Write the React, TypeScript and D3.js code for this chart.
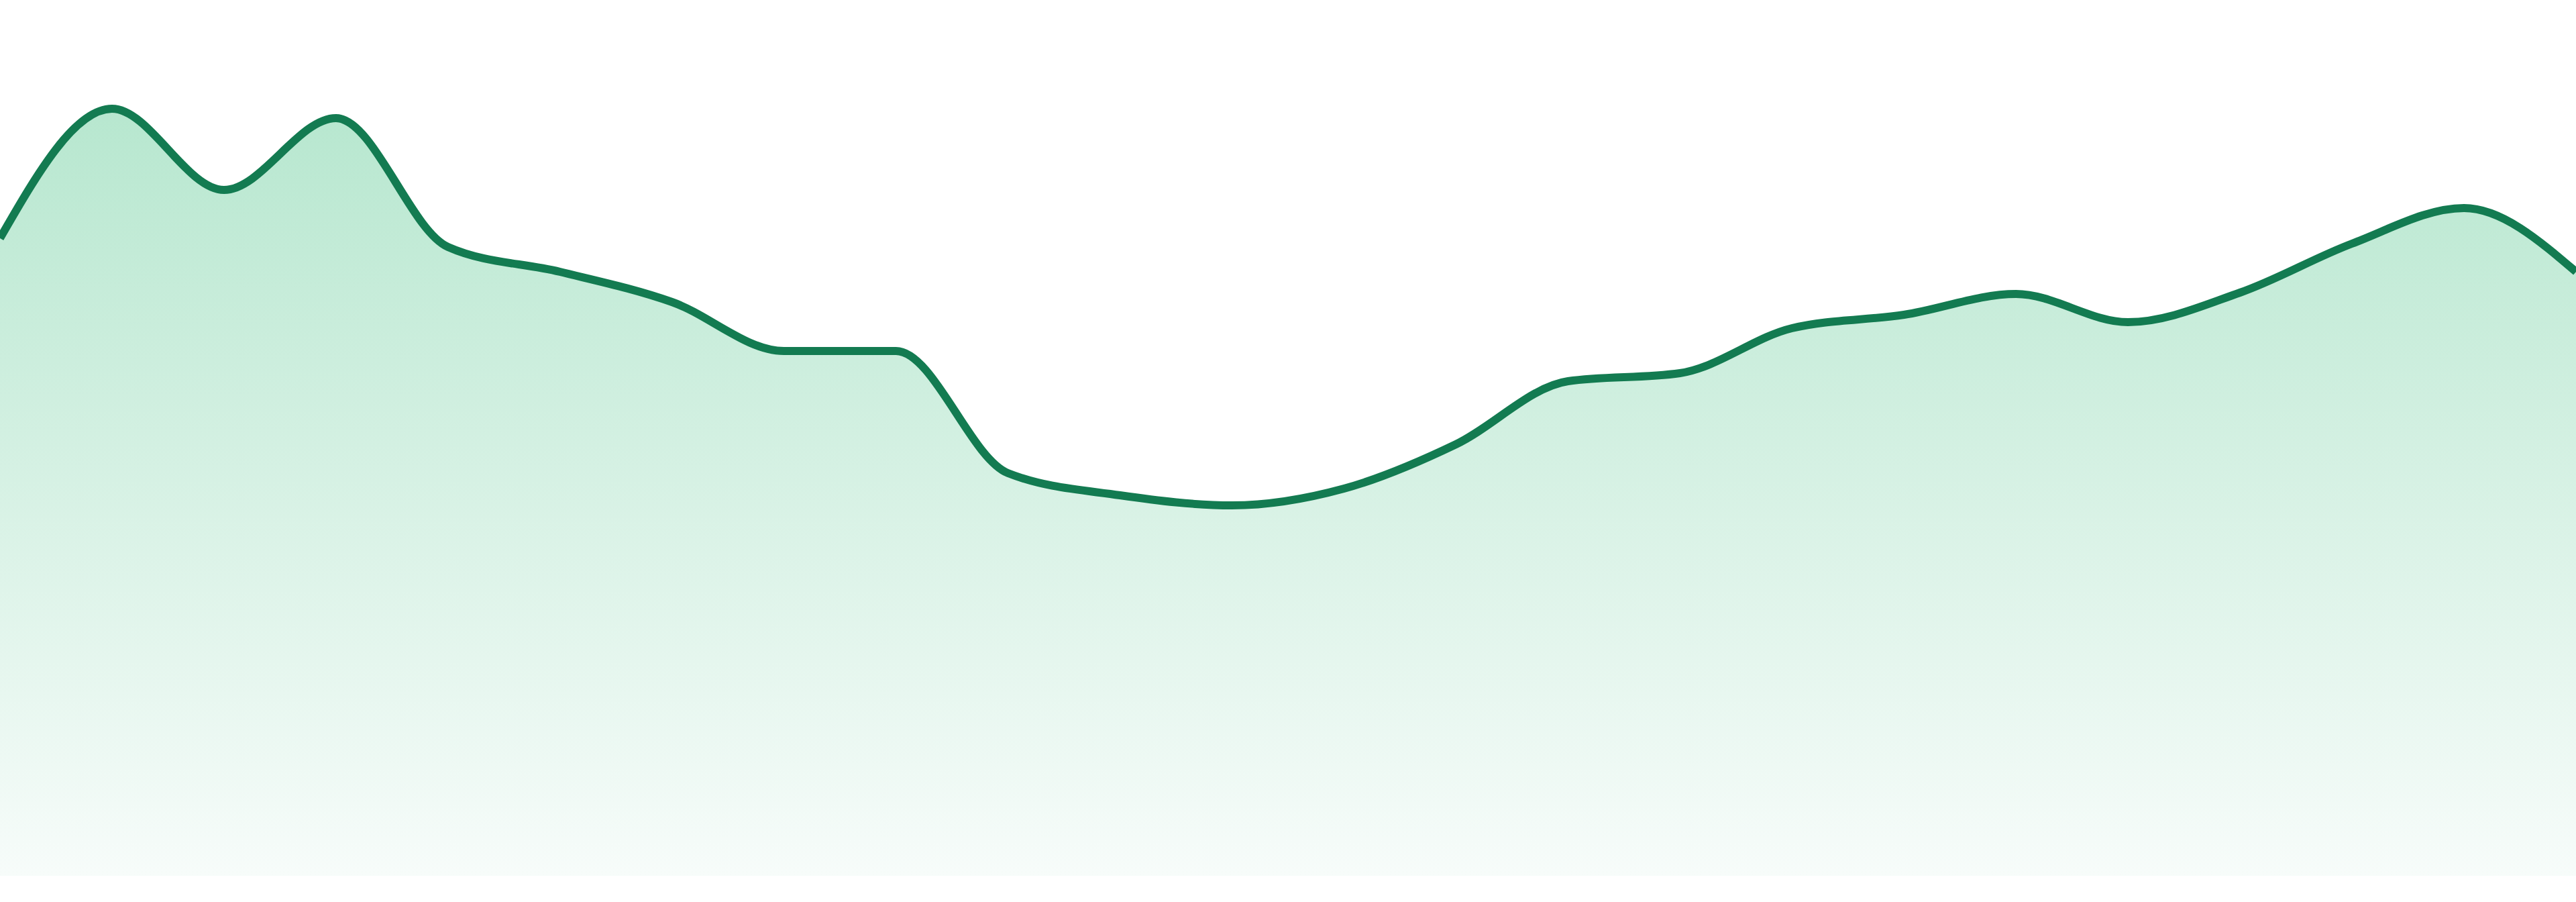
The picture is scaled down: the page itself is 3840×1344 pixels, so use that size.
// Area chart with a green gradient fill, drawn with d3 scales and shapes.

import * as d3 from "d3";

// evenly spaced samples, left to right
const indices = d3.range(24);

// series values
const values = [
  95.0, 114.3, 102.2, 112.9, 93.7, 90.0, 85.5, 78.2, 78.2, 60.0, 56.7, 55.2,
  57.7, 64.3, 73.7, 74.9, 81.6, 83.6, 86.7, 82.5, 86.9, 94.2, 99.5, 90.0,
];

const yDomain = [0, 130];

export default function App() {
  const width = 3840;
  const height = 1344;
  const baseline = 1305; // bottom of the filled area

  const scaleX = d3.scaleLinear([0, indices.length - 1], [0, width]);
  const scaleY = d3.scaleLinear(yDomain, [baseline, baseline - 1300]);

  const area = d3
    .area<number>()
    .x((d, i) => scaleX(indices[i]))
    .y0(baseline)
    .y1((d) => scaleY(d))
    .curve(d3.curveMonotoneX);

  const line = d3
    .line<number>()
    .x((d, i) => scaleX(indices[i]))
    .y((d) => scaleY(d))
    .curve(d3.curveMonotoneX);

  const top = scaleY(d3.max(values) as number);

  return (
    <svg
      width={width}
      height={height}
      style={{ position: "absolute", left: 0, top: 0, display: "block" }}
    >
      <defs>
        <linearGradient
          id="fillGrad"
          gradientUnits="userSpaceOnUse"
          x1="0"
          y1={top}
          x2="0"
          y2={baseline}
        >
          <stop offset="0%" stopColor="#b7e7cf" />
          <stop offset="100%" stopColor="#f7fcfa" />
        </linearGradient>
      </defs>
      <rect width={width} height={height} fill="#ffffff" />
      <path d={area(values) ?? ""} fill="url(#fillGrad)" />
      <path
        d={line(values) ?? ""}
        fill="none"
        stroke="#137b51"
        strokeWidth={12}
        strokeLinejoin="round"
      />
    </svg>
  );
}
